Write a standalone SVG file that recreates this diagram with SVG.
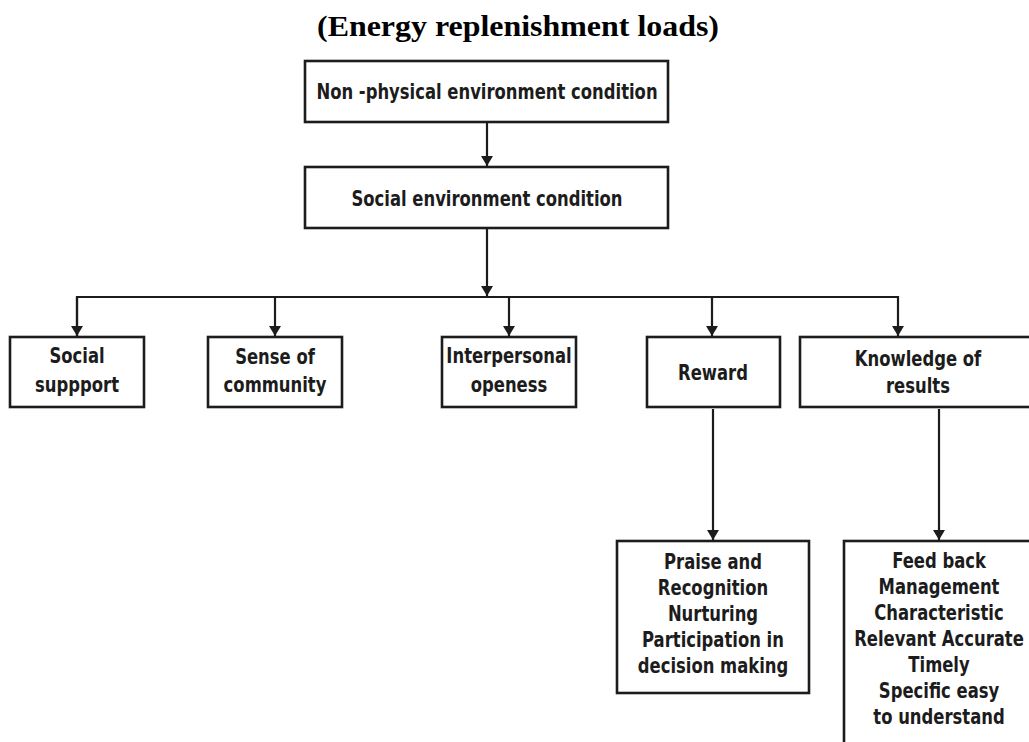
<svg xmlns="http://www.w3.org/2000/svg" width="1029" height="742" viewBox="0 0 1029 742">
<style>
.box{fill:#fff;stroke:#1c1c1c;stroke-width:2.6}
.t{font-family:"DejaVu Sans Condensed","DejaVu Sans",sans-serif;font-weight:bold;font-size:22px;fill:#1c1c1c;text-anchor:middle}
.title{font-family:"Liberation Serif","Times New Roman",serif;font-weight:bold;font-size:30px;fill:#000;text-anchor:middle}
.c{fill:none;stroke:#1c1c1c;stroke-width:2.2}
</style>
<defs>
<marker id="ah" viewBox="0 0 10 12" refX="10" refY="6" markerWidth="10" markerHeight="12" markerUnits="userSpaceOnUse" orient="auto">
<path d="M0,0 L10,6 L0,12 Z" fill="#1c1c1c"/>
</marker>
</defs>
<rect width="1029" height="742" fill="#fff"/>
<text class="title" x="518" y="36" textLength="402" lengthAdjust="spacingAndGlyphs">(Energy replenishment loads)</text>

<g id="connectors">
<line class="c" x1="487" y1="123" x2="487" y2="166" marker-end="url(#ah)"/>
<line class="c" x1="487" y1="229" x2="487" y2="296" marker-end="url(#ah)"/>
<polyline class="c" points="77,336 77,297 898,297 898,336" marker-end="url(#ah)"/>
<line class="c" x1="77" y1="297" x2="77" y2="336" marker-end="url(#ah)"/>
<line class="c" x1="275" y1="297" x2="275" y2="336" marker-end="url(#ah)"/>
<line class="c" x1="509" y1="297" x2="509" y2="336" marker-end="url(#ah)"/>
<line class="c" x1="712" y1="297" x2="712" y2="336" marker-end="url(#ah)"/>
<line class="c" x1="713" y1="409" x2="713" y2="540" marker-end="url(#ah)"/>
<line class="c" x1="939" y1="409" x2="939" y2="540" marker-end="url(#ah)"/>
</g>

<g id="n-nonphysical">
<rect class="box" x="305" y="61" width="363" height="61"/>
<text class="t" transform="translate(487,99) scale(0.83,1)">Non -physical environment condition</text>
</g>
<g id="n-social-env">
<rect class="box" x="305" y="167" width="363" height="61"/>
<text class="t" transform="translate(487,206) scale(0.83,1)">Social environment condition</text>
</g>
<g id="n-social-support">
<rect class="box" x="10" y="337" width="134" height="70"/>
<text class="t" transform="translate(77,363) scale(0.83,1)">Social</text>
<text class="t" transform="translate(77,392) scale(0.83,1)">suppport</text>
</g>
<g id="n-community">
<rect class="box" x="208" y="337" width="134" height="70"/>
<text class="t" transform="translate(275,364) scale(0.83,1)">Sense of</text>
<text class="t" transform="translate(275,392) scale(0.83,1)">community</text>
</g>
<g id="n-interpersonal">
<rect class="box" x="442" y="337" width="134" height="70"/>
<text class="t" transform="translate(509,363) scale(0.83,1)">Interpersonal</text>
<text class="t" transform="translate(509,392) scale(0.83,1)">openess</text>
</g>
<g id="n-reward">
<rect class="box" x="647" y="337" width="133" height="70"/>
<text class="t" transform="translate(713,380) scale(0.83,1)">Reward</text>
</g>
<g id="n-knowledge">
<rect class="box" x="800" y="337" width="236" height="70"/>
<text class="t" transform="translate(918,366) scale(0.83,1)">Knowledge of</text>
<text class="t" transform="translate(918,393) scale(0.83,1)">results</text>
</g>
<g id="n-praise">
<rect class="box" x="617" y="541" width="192" height="152"/>
<text class="t" transform="translate(713,569) scale(0.83,1)">Praise and</text>
<text class="t" transform="translate(713,595) scale(0.83,1)">Recognition</text>
<text class="t" transform="translate(713,621) scale(0.83,1)">Nurturing</text>
<text class="t" transform="translate(713,647) scale(0.83,1)">Participation in</text>
<text class="t" transform="translate(713,673) scale(0.83,1)">decision making</text>
</g>
<g id="n-feedback">
<rect class="box" x="844" y="541" width="192" height="215"/>
<text class="t" transform="translate(939,568) scale(0.83,1)">Feed back</text>
<text class="t" transform="translate(939,594) scale(0.83,1)">Management</text>
<text class="t" transform="translate(939,620) scale(0.83,1)">Characteristic</text>
<text class="t" transform="translate(939,646) scale(0.83,1)">Relevant Accurate</text>
<text class="t" transform="translate(939,672) scale(0.83,1)">Timely</text>
<text class="t" transform="translate(939,698) scale(0.83,1)">Specific easy</text>
<text class="t" transform="translate(939,724) scale(0.83,1)">to understand</text>
</g>
</svg>
